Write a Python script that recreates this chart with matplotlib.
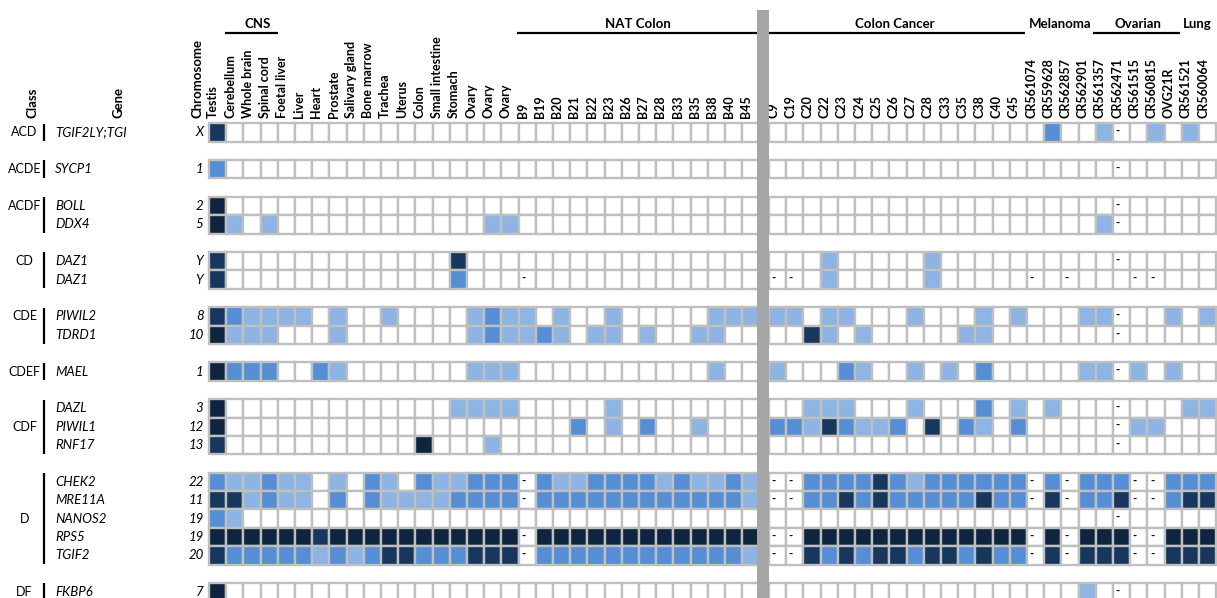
import matplotlib
matplotlib.use("Agg")
import matplotlib.pyplot as plt
from matplotlib.patches import Rectangle

NA = None  # sample without data

# ---- column groups ---------------------------------------------------------
tissues = ["Testis", "Cerebellum", "Whole brain", "Spinal cord", "Foetal liver",
           "Liver", "Heart", "Prostate", "Salivary gland", "Bone marrow",
           "Trachea", "Uterus", "Colon", "Small intestine", "Stomach",
           "Ovary", "Ovary", "Ovary"]
nat_colon = ["B9", "B19", "B20", "B21", "B22", "B23", "B26", "B27", "B28",
             "B33", "B35", "B38", "B40", "B45"]
colon_cancer = ["C9", "C19", "C20", "C22", "C23", "C24", "C25", "C26", "C27",
                "C28", "C33", "C35", "C38", "C40", "C45"]
other_tumours = ["CR561074", "CR559628", "CR562857", "CR562901", "CR561357",
                 "CR562471", "CR561515", "CR560815", "OVG21R", "CR561521",
                 "CR560064"]
columns = tissues + nat_colon + colon_cancer + other_tumours

# ---- rows ------------------------------------------------------------------
genes = ["TGIF2LY;TGI", "SYCP1", "BOLL", "DDX4", "DAZ1", "DAZ1", "PIWIL2",
         "TDRD1", "MAEL", "DAZL", "PIWIL1", "RNF17", "CHEK2", "MRE11A",
         "NANOS2", "RPS5", "TGIF2", "FKBP6"]
chromosomes = ["X", "1", "2", "5", "Y", "Y", "8", "10", "1", "3", "12", "13",
               "22", "11", "19", "19", "20", "7"]
class_names = ["ACD", "ACDE", "ACDF", "CD", "CDE", "CDEF", "CDF", "D", "DF"]
class_sizes = [1, 1, 2, 2, 2, 1, 3, 5, 1]
class_label_row = [0, 0, 0, 0, 0, 0, 1, 2, 0]

# expression level per sample: 0 none, 1 low, 2 medium, 3 high, 4 very high
# (order: tissues | NAT colon | colon cancer | other tumours)
expr_tgif2ly = ([3] + [0] * 17 + [0] * 14 + [0] * 15 +
                [0, 2, 0, 0, 1, NA, 0, 1, 0, 1, 0])
expr_sycp1 = ([2] + [0] * 17 + [0] * 14 + [0] * 15 +
              [0, 0, 0, 0, 0, NA, 0, 0, 0, 0, 0])
expr_boll = ([4] + [0] * 17 + [0] * 14 + [0] * 15 +
             [0, 0, 0, 0, 0, NA, 0, 0, 0, 0, 0])
expr_ddx4 = ([4, 1, 0, 1, 0, 0, 0, 0, 0, 0, 0, 0, 0, 0, 0, 0, 1, 1] +
             [0] * 14 + [0] * 15 +
             [0, 0, 0, 0, 1, NA, 0, 0, 0, 0, 0])
expr_daz1_a = ([3, 0, 0, 0, 0, 0, 0, 0, 0, 0, 0, 0, 0, 0, 3, 0, 0, 0] +
               [0] * 14 +
               [0, 0, 0, 1, 0, 0, 0, 0, 0, 1, 0, 0, 0, 0, 0] +
               [0, 0, 0, 0, 0, NA, 0, 0, 0, 0, 0])
expr_daz1_b = ([3, 0, 0, 0, 0, 0, 0, 0, 0, 0, 0, 0, 0, 0, 2, 0, 0, 0] +
               [NA] + [0] * 13 +
               [NA, NA, 0, 1, 0, 0, 0, 0, 0, 1, 0, 0, 0, 0, 0] +
               [NA, 0, NA, 0, 0, 0, NA, NA, 0, 0, 0])
expr_piwil2 = ([3, 2, 1, 1, 1, 1, 0, 1, 0, 0, 1, 0, 0, 0, 0, 1, 2, 1] +
               [1, 0, 1, 0, 0, 1, 0, 0, 0, 0, 0, 1, 1, 1] +
               [1, 1, 0, 1, 1, 0, 0, 0, 1, 0, 0, 0, 1, 0, 1] +
               [0, 0, 0, 1, 1, NA, 0, 0, 1, 0, 1])
expr_tdrd1 = ([4, 1, 1, 1, 0, 0, 0, 1, 0, 0, 0, 0, 0, 0, 0, 1, 2, 1] +
              [1, 2, 1, 0, 1, 1, 0, 1, 0, 0, 1, 1, 0, 0] +
              [0, 0, 3, 1, 0, 1, 0, 0, 0, 0, 0, 1, 1, 0, 0] +
              [0, 0, 0, 0, 0, NA, 0, 0, 0, 0, 0])
expr_mael = ([4, 2, 2, 2, 0, 0, 2, 1, 0, 0, 0, 0, 0, 0, 0, 1, 1, 1] +
             [0, 0, 0, 0, 0, 0, 0, 0, 0, 0, 0, 1, 0, 0] +
             [1, 0, 0, 0, 2, 1, 0, 0, 1, 0, 1, 0, 2, 0, 0] +
             [0, 0, 0, 1, 1, NA, 1, 0, 1, 0, 0])
expr_dazl = ([4, 0, 0, 0, 0, 0, 0, 0, 0, 0, 0, 0, 0, 0, 1, 1, 1, 1] +
             [0, 0, 0, 0, 0, 1, 0, 0, 0, 0, 0, 0, 0, 0] +
             [0, 0, 1, 1, 1, 0, 0, 0, 1, 0, 0, 0, 2, 0, 1] +
             [0, 1, 0, 0, 0, NA, 0, 0, 0, 1, 1])
expr_piwil1 = ([4] + [0] * 17 +
               [0, 0, 0, 2, 0, 1, 0, 2, 0, 0, 1, 0, 0, 0] +
               [2, 2, 1, 3, 2, 1, 1, 2, 0, 3, 0, 2, 1, 0, 2] +
               [0, 0, 0, 0, 0, NA, 1, 1, 0, 0, 0])
expr_rnf17 = ([3, 0, 0, 0, 0, 0, 0, 0, 0, 0, 0, 0, 4, 0, 0, 0, 1, 0] +
              [0] * 14 + [0] * 15 +
              [0, 0, 0, 0, 0, NA, 0, 0, 0, 0, 0])
expr_chek2 = ([2, 1, 1, 2, 1, 1, 0, 1, 0, 2, 1, 0, 2, 1, 1, 2, 2, 2] +
              [NA, 2, 1, 1, 2, 2, 2, 2, 1, 2, 1, 1, 2, 1] +
              [NA, NA, 2, 2, 2, 2, 3, 2, 1, 2, 2, 2, 2, 2, 2] +
              [NA, 2, NA, 2, 2, 2, NA, NA, 2, 2, 2])
expr_mre11a = ([3, 3, 1, 2, 1, 1, 0, 2, 0, 2, 1, 1, 1, 1, 2, 2, 2, 2] +
               [NA, 2, 2, 2, 2, 2, 2, 2, 2, 2, 2, 2, 2, 1] +
               [NA, NA, 2, 2, 3, 2, 3, 2, 2, 2, 2, 2, 3, 2, 2] +
               [NA, 3, NA, 2, 2, 3, NA, NA, 2, 3, 3])
expr_nanos2 = ([2, 1] + [0] * 16 + [0] * 14 + [0] * 15 +
               [0, 0, 0, 0, 0, NA, 0, 0, 0, 0, 0])
expr_rps5 = ([4, 4, 4, 4, 4, 4, 3, 4, 4, 4, 4, 4, 4, 4, 4, 4, 4, 4] +
             [NA] + [4] * 13 +
             [NA, NA] + [4] * 13 +
             [NA, 4, NA, 4, 4, 4, NA, NA, 4, 4, 4])
expr_tgif2 = ([3, 2, 2, 2, 2, 2, 1, 2, 1, 2, 3, 3, 2, 2, 2, 3, 3, 3] +
              [NA, 2, 2, 2, 2, 2, 2, 2, 2, 2, 2, 2, 2, 1] +
              [NA, NA, 3, 2, 3, 2, 3, 3, 2, 3, 3, 2, 3, 2, 2] +
              [NA, 3, NA, 3, 3, 3, NA, NA, 3, 3, 3])
expr_fkbp6 = ([4] + [0] * 17 + [0] * 14 + [0] * 15 +
              [0, 0, 0, 1, 0, NA, 0, 0, 0, 0, 0])

expression = [expr_tgif2ly, expr_sycp1, expr_boll, expr_ddx4, expr_daz1_a,
              expr_daz1_b, expr_piwil2, expr_tdrd1, expr_mael, expr_dazl,
              expr_piwil1, expr_rnf17, expr_chek2, expr_mre11a, expr_nanos2,
              expr_rps5, expr_tgif2, expr_fkbp6]

level_colours = {0: "#FFFFFF", 1: "#8DB4E2", 2: "#558ED5", 3: "#17375E",
                 4: "#0F243E"}

# ---- geometry (pixels of a 1217 x 598 canvas) ------------------------------
W, H = 1217, 598
COL_PX, ROW_PX = 17.2, 18.39
X0, Y0 = 209.0, 123.3
SPLIT = len(tissues) + len(nat_colon)   # gray divider before colon cancer
GAP = 0.56

plt.rcParams["font.family"] = ["Lato", "DejaVu Sans"]

fig = plt.figure(figsize=(W / 100, H / 100), dpi=100)
ax = fig.add_axes([0, 0, 1, 1])
ax.set_xlim(-X0 / COL_PX, (W - X0) / COL_PX)
ax.set_ylim((H - Y0) / ROW_PX, -Y0 / ROW_PX)
ax.axis("off")


def px_x(px):
    return (px - X0) / COL_PX


def px_y(py):
    return (py - Y0) / ROW_PX


def col_x(j):
    return j + (GAP if j >= SPLIT else 0.0)


# row positions: one blank row between classes
row_pos = []
p = 0
for n in class_sizes:
    row_pos.extend(range(p, p + n))
    p += n + 1

# ---- cells -----------------------------------------------------------------
for r, values in enumerate(expression):
    y = row_pos[r]
    for j, v in enumerate(values):
        x = col_x(j)
        face = "#FFFFFF" if v is None else level_colours[v]
        ax.add_patch(Rectangle((x, y), 1, 1, facecolor=face,
                               edgecolor="#BFBFBF", linewidth=1.7,
                               zorder=2, clip_on=False))
        if v is None:
            ax.text(x + 0.27, y + 0.45, "-", ha="center", va="center",
                    fontsize=8.5, fontweight="bold", color="black", zorder=3)

# gray divider between normal colon and colon cancer
ax.add_patch(Rectangle((px_x(757), px_y(598)), px_x(769) - px_x(757),
                       px_y(10) - px_y(598), facecolor="#A6A6A6",
                       edgecolor="none", zorder=4, clip_on=False))

# ---- column labels -----------------------------------------------------------
label_bottom = px_y(118.5)
for j, name in enumerate(columns):
    ax.text(col_x(j) + 0.5 - 0.26, label_bottom, name, rotation=90,
            ha="center", va="bottom", fontsize=9, fontweight="bold")

for text, xpx in [("Class", 32.5), ("Gene", 118), ("Chromosome", 197)]:
    ax.text(px_x(xpx), label_bottom, text, rotation=90, ha="center",
            va="bottom", fontsize=9.5, fontweight="bold")

# ---- group headers -------------------------------------------------------------
header_y = px_y(24)
line_y = px_y(33)
headers = [("CNS", 258), ("NAT Colon", 638), ("Colon Cancer", 895),
           ("Melanoma", 1060), ("Ovarian", 1138), ("Lung", 1197)]
for text, xpx in headers:
    ax.text(px_x(xpx), header_y, text, ha="center", va="center",
            fontsize=9.5, fontweight="bold")
for x_start, x_end in [(225, 278), (517, 1025), (1093, 1180)]:
    ax.plot([px_x(x_start), px_x(x_end)], [line_y, line_y], color="black",
            lw=1.6, solid_capstyle="butt", zorder=3)

# ---- row labels ------------------------------------------------------------------
for r, (gene, chrom) in enumerate(zip(genes, chromosomes)):
    yc = row_pos[r] + 0.5
    ax.text(px_x(55), yc, gene, ha="left", va="center", fontsize=9.5,
            style="italic")
    ax.text(px_x(203.5), yc, chrom, ha="right", va="center", fontsize=9.5,
            style="italic")

start = 0
for name, n, k in zip(class_names, class_sizes, class_label_row):
    top = row_pos[start]
    ax.plot([px_x(43.5), px_x(43.5)], [top + 0.02, top + n - 0.02],
            color="black", lw=1.6, solid_capstyle="butt")
    ax.text(px_x(24.5), top + k + 0.5, name, ha="center", va="center",
            fontsize=9)
    start += n

fig.savefig("out.png", dpi=100, facecolor="white")
